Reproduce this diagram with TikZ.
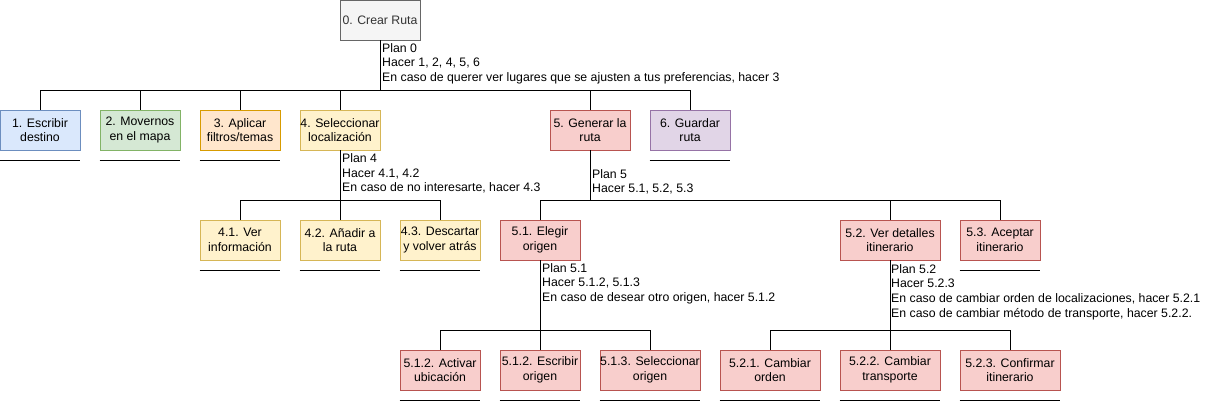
\documentclass[tikz,border=0pt]{standalone}
\usepackage{fontspec}
\setmainfont{Liberation Sans}
\definecolor{blueF}{HTML}{DAE8FC}\definecolor{blueD}{HTML}{6C8EBF}
\definecolor{greenF}{HTML}{D5E8D4}\definecolor{greenD}{HTML}{82B366}
\definecolor{orangeF}{HTML}{FFE6CC}\definecolor{orangeD}{HTML}{D79B00}
\definecolor{yellowF}{HTML}{FFF2CC}\definecolor{yellowD}{HTML}{D6B656}
\definecolor{redF}{HTML}{F8CECC}\definecolor{redD}{HTML}{B85450}
\definecolor{purpleF}{HTML}{E1D5E7}\definecolor{purpleD}{HTML}{9673A6}
\definecolor{grayF}{HTML}{F5F5F5}\definecolor{grayD}{HTML}{666666}
\definecolor{grayT}{HTML}{333333}

\begin{document}
\begin{tikzpicture}[x=1pt, y=1pt,
    every node/.style={font=\fontsize{12.3}{14.7}\selectfont},
    task/.style={draw, line width=0.8pt, minimum width=80pt, minimum height=40pt, inner sep=0pt, align=center},
    wide/.style={minimum width=100pt},
    plan/.style={anchor=north west, inner sep=0pt, align=left},
    link/.style={line width=0.8pt}]
  \useasboundingbox (0,0) rectangle (1210,-402);

  % root
  \node[task, fill=grayF, draw=grayD, text=grayT] (t0) at (380,-20) {0. Crear Ruta};

  % level 1
  \node[task, fill=blueF, draw=blueD] (t1) at (40,-130) {1. Escribir\\destino};
  \node[task, fill=greenF, draw=greenD] (t2) at (140,-130) {2. Movernos\\en el mapa};
  \node[task, fill=orangeF, draw=orangeD] (t3) at (240,-130) {3. Aplicar\\filtros/temas};
  \node[task, fill=yellowF, draw=yellowD] (t4) at (340,-130) {4. Seleccionar\\localización};
  \node[task, fill=redF, draw=redD] (t5) at (590,-130) {5. Generar la\\ruta};
  \node[task, fill=purpleF, draw=purpleD] (t6) at (690,-130) {6. Guardar\\ruta};

  % level 2
  \node[task, fill=yellowF, draw=yellowD] (t41) at (240,-240) {4.1. Ver\\información};
  \node[task, fill=yellowF, draw=yellowD] (t42) at (340,-240) {4.2. Añadir a\\la ruta};
  \node[task, fill=yellowF, draw=yellowD] (t43) at (440,-240) {4.3. Descartar\\y volver atrás};
  \node[task, fill=redF, draw=redD] (t51) at (540,-240) {5.1. Elegir\\origen};
  \node[task, wide, fill=redF, draw=redD] (t52) at (890,-240) {5.2. Ver detalles\\itinerario};
  \node[task, fill=redF, draw=redD] (t53) at (1000,-240) {5.3. Aceptar\\itinerario};

  % level 3
  \node[task, fill=redF, draw=redD] (t511) at (440,-370) {5.1.2. Activar\\ubicación};
  \node[task, fill=redF, draw=redD] (t512) at (540,-370) {5.1.2. Escribir\\origen};
  \node[task, wide, fill=redF, draw=redD] (t513) at (650,-370) {5.1.3. Seleccionar\\origen};
  \node[task, wide, fill=redF, draw=redD] (t521) at (770,-370) {5.2.1. Cambiar\\orden};
  \node[task, wide, fill=redF, draw=redD] (t522) at (890,-370) {5.2.2. Cambiar\\transporte};
  \node[task, wide, fill=redF, draw=redD] (t523) at (1010,-370) {5.2.3. Confirmar\\itinerario};

  % plans
  \node[plan] (p0) at ([xshift=2pt,yshift=-2.5pt]t0.south) {Plan 0\\Hacer 1, 2, 4, 5, 6\\En caso de querer ver lugares que se ajusten a tus preferencias, hacer 3};
  \node[plan] (p4) at ([xshift=2pt,yshift=-3pt]t4.south) {Plan 4\\Hacer 4.1, 4.2\\En caso de no interesarte, hacer 4.3};
  \node[plan] (p5) at ([xshift=2pt,yshift=-18.5pt]t5.south) {Plan 5\\Hacer 5.1, 5.2, 5.3};
  \node[plan] (p51) at ([xshift=2pt,yshift=-2.5pt]t51.south) {Plan 5.1\\Hacer 5.1.2, 5.1.3\\En caso de desear otro origen, hacer 5.1.2};
  \node[plan] (p52) at ([xshift=1pt,yshift=-3.5pt]t52.south) {Plan 5.2\\Hacer 5.2.3\\En caso de cambiar orden de localizaciones, hacer 5.2.1\\En caso de cambiar método de transporte, hacer 5.2.2.};

  % tree links
  \coordinate (b0) at ([yshift=-50pt]t0.south);
  \coordinate (b4) at ([yshift=-50pt]t4.south);
  \coordinate (b5) at ([yshift=-50pt]t5.south);
  \coordinate (b51) at ([yshift=-70pt]t51.south);
  \coordinate (b52) at ([yshift=-70pt]t52.south);
  \draw[link] (t0.south) -- (b0);
  \draw[link] (t4.south) -- (b4);
  \draw[link] (t5.south) -- (b5);
  \draw[link] (t51.south) -- (b51);
  \draw[link] (t52.south) -- (b52);
  \foreach \c in {t1,t2,t3,t4,t5,t6} \draw[link] (\c.north) |- (b0);
  \foreach \c in {t41,t42,t43} \draw[link] (\c.north) |- (b4);
  \foreach \c in {t51,t52,t53} \draw[link] (\c.north) |- (b5);
  \foreach \c in {t511,t512,t513} \draw[link] (\c.north) |- (b51);
  \foreach \c in {t521,t522,t523} \draw[link] (\c.north) |- (b52);

  % leaf underlines
  \foreach \c in {t1,t2,t3,t6,t41,t42,t43,t53,t511,t512,t513,t521,t522,t523}
    \draw[link] ([yshift=-10pt]\c.south west) -- ([yshift=-10pt]\c.south east);
\end{tikzpicture}
\end{document}
